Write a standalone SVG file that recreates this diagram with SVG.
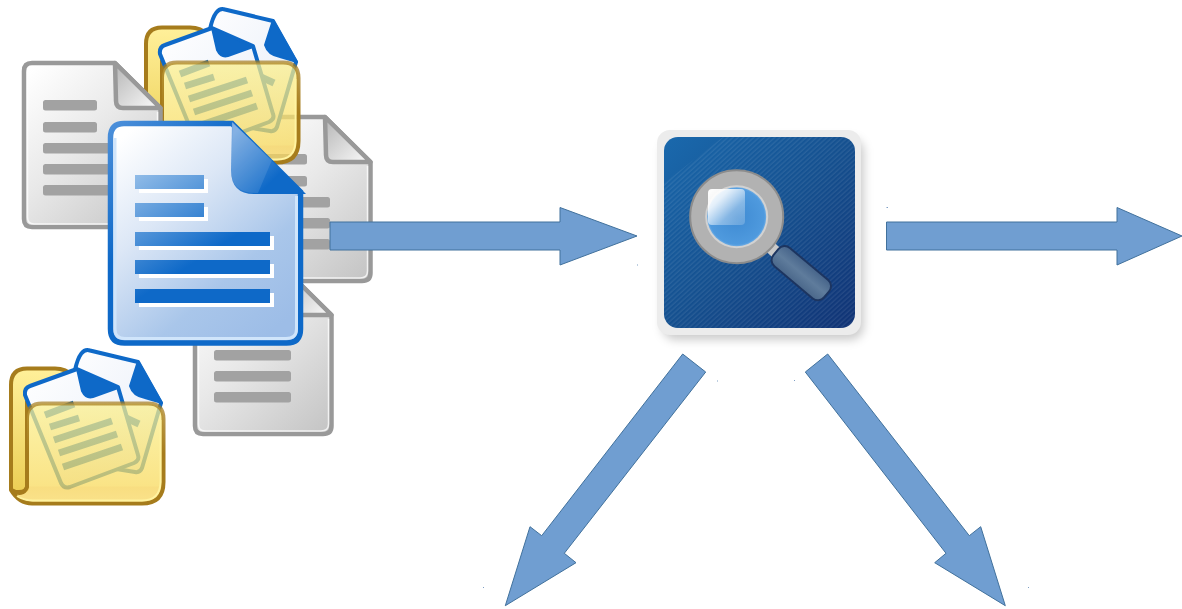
<svg xmlns="http://www.w3.org/2000/svg" xmlns:xlink="http://www.w3.org/1999/xlink" width="1182" height="609" viewBox="0 0 1182 609">
<style>
.arrow{fill:#709ed1;stroke:#41719c;stroke-width:1;stroke-linejoin:miter}
.speck{fill:#7f9fc4}
.gbar{fill:#a2a2a2}
.gline{fill:none;stroke:#fff;stroke-opacity:.75;stroke-width:1.5}
.gdoc{stroke:#999;stroke-width:4.5;fill:url(#gDoc);stroke-linejoin:round}
.gfold{stroke:#999;stroke-width:4.5;fill:url(#gFold);stroke-linejoin:round}
.bshadow{fill:#fff}
.pline{stroke:#0e69c8;stroke-width:7;fill:none}
.paper{fill:url(#gPaper);stroke:#0e69c8;stroke-width:4;stroke-linejoin:round}
.pfold{fill:#0e69c8;stroke:#0e69c8;stroke-width:2;stroke-linejoin:round}
</style>
<defs>
<linearGradient id="gDoc" x1="0.1" y1="0" x2="0.9" y2="1"><stop offset="0" stop-color="#fff"/><stop offset=".45" stop-color="#e9e9e9"/><stop offset="1" stop-color="#c6c6c6"/></linearGradient>
<linearGradient id="gFold" x1="0.9" y1="0.9" x2="0.1" y2="0.1"><stop offset="0" stop-color="#f4f4f4"/><stop offset="1" stop-color="#bcbcbc"/></linearGradient>
<linearGradient id="gMain" gradientUnits="userSpaceOnUse" x1="125" y1="135" x2="285" y2="320"><stop offset="0" stop-color="#fff"/><stop offset=".35" stop-color="#dce7f6"/><stop offset=".72" stop-color="#a9c6ea"/><stop offset="1" stop-color="#9dbde7"/></linearGradient>
<linearGradient id="gMainStroke" gradientUnits="userSpaceOnUse" x1="110" y1="123" x2="250" y2="260"><stop offset="0" stop-color="#4d90da"/><stop offset=".5" stop-color="#0e69c8"/></linearGradient>
<linearGradient id="gMainFold" gradientUnits="userSpaceOnUse" x1="232" y1="135" x2="285" y2="190"><stop offset="0" stop-color="#76a8e0"/><stop offset=".8" stop-color="#0e69c8"/></linearGradient>
<linearGradient id="gBar" gradientUnits="userSpaceOnUse" x1="135" y1="170" x2="195" y2="262"><stop offset="0" stop-color="#96bfe9"/><stop offset="1" stop-color="#0e69c8"/></linearGradient>
<linearGradient id="gBack" x1="0" y1="0" x2="0" y2="1"><stop offset="0" stop-color="#fff09a"/><stop offset="1" stop-color="#ecce55"/></linearGradient>
<linearGradient id="gPanel" x1="0" y1="0" x2="0" y2="1"><stop offset="0" stop-color="#fbf08e"/><stop offset=".82" stop-color="#f8da5c"/><stop offset=".84" stop-color="#f6d255"/><stop offset="1" stop-color="#f8d862"/></linearGradient>
<linearGradient id="gPanelStroke" x1="0" y1="0" x2="0" y2="1"><stop offset="0" stop-color="#a67c1c" stop-opacity=".7"/><stop offset=".5" stop-color="#a67c1c"/></linearGradient>
<linearGradient id="gPaper" x1="0" y1="0" x2="1" y2="1"><stop offset="0" stop-color="#fff"/><stop offset="1" stop-color="#e6ecf8"/></linearGradient>
<linearGradient id="gBlue" x1="0" y1="0" x2="1" y2="1"><stop offset="0" stop-color="#1a69ad"/><stop offset=".5" stop-color="#15508f"/><stop offset="1" stop-color="#103274"/></linearGradient>
<linearGradient id="gGlare" x1="0" y1="0" x2="1" y2="1"><stop offset="0" stop-color="#fff"/><stop offset=".3" stop-color="#fff" stop-opacity=".85"/><stop offset=".65" stop-color="#fff" stop-opacity=".35"/><stop offset="1" stop-color="#fff" stop-opacity=".18"/></linearGradient>
<linearGradient id="gHandle" x1="0" y1="0" x2="0" y2="1"><stop offset="0" stop-color="#46648a"/><stop offset=".5" stop-color="#5f7c9c"/><stop offset="1" stop-color="#4a678a"/></linearGradient>
<radialGradient id="gGlass" cx=".5" cy=".5" r=".55"><stop offset="0" stop-color="#3e8ad2"/><stop offset=".85" stop-color="#4f9ade"/><stop offset="1" stop-color="#9cc8ee"/></radialGradient>
<pattern id="hatch" width="3.500" height="3.500" patternUnits="userSpaceOnUse" patternTransform="rotate(-42)"><line x1="0" y1="1" x2="3.500" y2="1" stroke="#fff" stroke-opacity=".14" stroke-width=".8"/></pattern>
<filter id="soft" x="-15%" y="-15%" width="130%" height="130%"><feGaussianBlur stdDeviation="5"/></filter>
<g id="grayDoc">
<path class="gdoc" d="M32,63H115L160.500,108V219Q160.500,227 152,227H32Q24,227 24,219V71Q24,63 32,63Z"/>
<path class="gline" d="M27.500,72V217Q27.500,224 34,224H150Q157.500,224 157.500,217V112"/>
<path class="gfold" d="M115,63L160.500,108H123Q116,108 116,101Z"/>
<rect class="gbar" x="43" y="100" width="54" height="10.500" rx="2.500"/>
<rect class="gbar" x="43" y="122" width="54" height="10.500" rx="2.500"/>
<rect class="gbar" x="43" y="143" width="77" height="10.500" rx="2.500"/>
<rect class="gbar" x="43" y="164" width="77" height="10.500" rx="2.500"/>
<rect class="gbar" x="43" y="185" width="77" height="10.500" rx="2.500"/>
</g>
<g id="folderBack">
<path d="M11,490V385Q11,368.500 27,368.500H55Q66,368.500 73,376L80,402L27,403V487Q27,492 19,492Q11,492 11,488Z" fill="url(#gBack)" stroke="#a67c1c" stroke-width="4"/>
</g>
<g id="folderFront">
<path class="paper" d="M90,350.500L138,362L161,403L142,468Q140,473 135,472L60,460L75,370Q80,347 90,350.500Z"/>
<path class="pfold" d="M138,361L162,403L145,398Q133,396 130,386Z"/>
<line class="pline" x1="115" y1="413" x2="139" y2="424"/>
<path class="paper" d="M30,386L77,369L118,387L138,455Q140,460 134,463L70,487Q64,489 61,483L25,395Q24,388 30,386Z"/>
<path class="pfold" d="M77,369L118,388L93,397Q86,399 82,391Z"/>
<g class="pline"><line x1="45" y1="415" x2="74" y2="404"/><line x1="50" y1="427" x2="79" y2="418"/><line x1="54" y1="440" x2="112" y2="421"/><line x1="59" y1="453" x2="117" y2="434"/><line x1="63" y1="467" x2="122" y2="447"/></g>
<path d="M42,403.500H148Q163.500,403.500 163.500,419V482Q163.500,503.500 142,503.500H32Q19,503.500 11,490Q23,497 27,487V419Q27,403.500 42,403.500Z" fill="url(#gPanel)" fill-opacity=".74" stroke="url(#gPanelStroke)" stroke-width="4" stroke-linejoin="round"/>
<path d="M17,496Q24,500.500 33,500.500H142Q160,500.500 160.500,482V420" fill="none" stroke="#fff3a0" stroke-width="1.800"/>
</g>
</defs>
<rect width="1182" height="609" fill="#fff"/>
<g id="doc-gray-2"><use href="#grayDoc" x="210" y="54"/></g>
<g id="doc-gray-3"><use href="#grayDoc" x="171" y="207"/></g>
<g id="folder-top"><use href="#folderBack" x="135" y="-341"/><use href="#folderFront" x="135" y="-341"/></g>
<g id="doc-gray-1"><use href="#grayDoc"/></g>
<g id="folder-bottom"><use href="#folderBack"/><use href="#folderFront"/></g>
<g id="doc-main">
<path d="M124,123.500H232L300.500,192V329Q300.500,343 286.500,343H124.500Q110.500,343 110.500,329V137.500Q110.500,123.500 124,123.500Z" fill="url(#gMain)" stroke="url(#gMainStroke)" stroke-width="5.500"/>
<path d="M115,138V329Q115,338.500 125,338.500H286Q296.500,338.500 296.500,329V196" fill="none" stroke="#d0e5fb" stroke-width="3"/>
<path d="M232,122L306,194H254Q231,194 231,170Z" fill="url(#gMainFold)"/>
<path d="M233,123L272,160L258,193Q231,194 231,170Z" fill="#fff" fill-opacity=".1"/>
<g class="bshadow"><rect x="139" y="179" width="69" height="14"/><rect x="139" y="207" width="69" height="14"/><rect x="139" y="236" width="135" height="14"/><rect x="139" y="264" width="135" height="14"/><rect x="139" y="293" width="135" height="14"/></g>
<g fill="url(#gBar)"><rect x="135" y="175" width="69" height="14"/><rect x="135" y="203" width="69" height="14"/><rect x="135" y="232" width="135" height="14"/><rect x="135" y="260" width="135" height="14"/><rect x="135" y="289" width="135" height="14"/></g>
</g>
<g id="search-icon">
<rect x="662" y="138" width="202" height="202" rx="14" fill="#000" fill-opacity=".2" filter="url(#soft)"/>
<rect x="657" y="130" width="204" height="205" rx="13" fill="#ececec"/>
<rect x="664" y="137" width="191" height="191" rx="14" fill="url(#gBlue)"/>
<path d="M723,137H841Q855,137 855,151V314Q855,328 841,328H678Q664,328 664,314V183Z" fill="url(#hatch)"/>
<line x1="769" y1="246" x2="780" y2="256" stroke="#c9c9c9" stroke-width="12"/>
<rect x="0" y="-12" width="66" height="24" rx="8" transform="translate(776,252) rotate(40)" fill="url(#gHandle)" stroke="#1d3560" stroke-width="2"/>
<circle cx="736.700" cy="216.700" r="46.500" fill="#b2b2b2" stroke="#8c8c8c" stroke-width="2"/>
<circle cx="736.700" cy="216.700" r="31.500" fill="#d2d2d2"/>
<circle cx="736.700" cy="216.700" r="29.500" fill="url(#gGlass)"/>
<rect x="708" y="189" width="37" height="36" rx="4" fill="url(#gGlare)"/>
</g>
<g id="connectors">
<polygon class="arrow" points="330,222 560,222 560,207.500 637,236 560,265 560,250 330,250"/>
<polygon class="arrow" points="886.500,222 1117,222 1117,207.500 1182,236 1117,265 1117,250 886.500,250"/>
<polygon class="arrow" points="682.700,354 705.700,372 564.300,553.300 576,562.700 505.300,605.700 530,526.700 541.700,535.700"/>
<polygon class="arrow" points="827.700,354 805.300,372 946,553.300 934.700,562.700 1005.300,605.700 980.700,526.700 969.300,535.700"/>
</g>
<g id="specks" class="speck">
<rect x="637" y="264.500" width="1" height="1"/><rect x="886.500" y="207" width="1.500" height="1"/><rect x="717" y="380.500" width="1" height="1"/><rect x="794" y="380" width="1" height="1"/><rect x="483" y="587" width="1" height="1"/><rect x="1028" y="587" width="1" height="1"/>
</g>
</svg>
